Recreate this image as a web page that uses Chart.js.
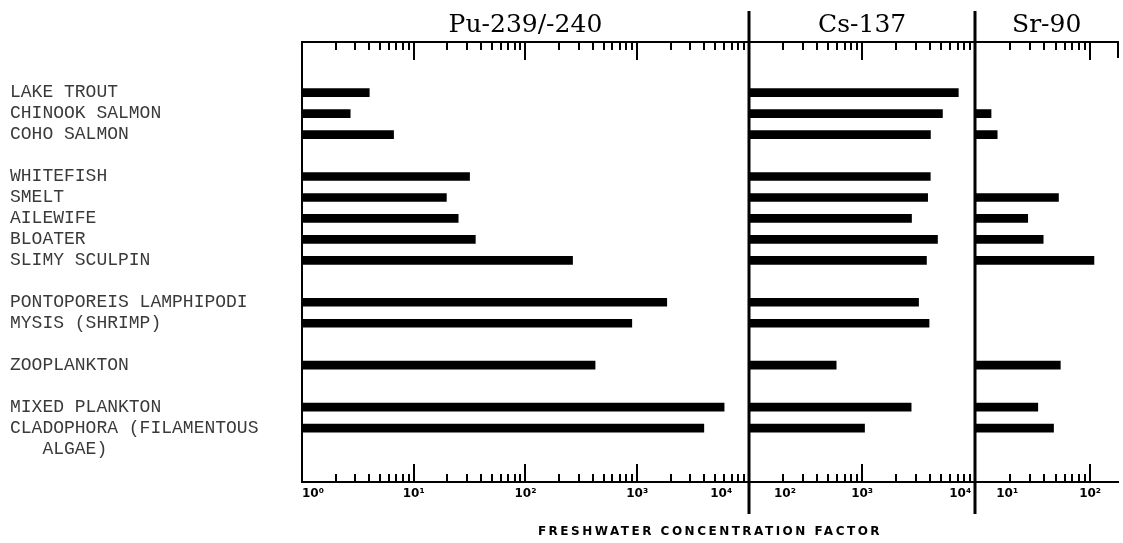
<!DOCTYPE html>
<html><head><meta charset="utf-8">
<script src="https://cdn.jsdelivr.net/npm/chart.js@4.4.1/dist/chart.umd.min.js"></script>
<style>html,body{margin:0;padding:0;background:#fff;}#wrap{position:relative;width:1123px;height:543px;}</style>
</head><body><div id="wrap"><canvas id="c" width="1123" height="543"></canvas></div>
<script>
// ---- data ----
const rowLabels = ['LAKE TROUT','CHINOOK SALMON','COHO SALMON','','WHITEFISH','SMELT','AILEWIFE','BLOATER','SLIMY SCULPIN','','PONTOPOREIS LAMPHIPODI','MYSIS (SHRIMP)','','ZOOPLANKTON','','MIXED PLANKTON','CLADOPHORA (FILAMENTOUS','   ALGAE)'];
const puValues = [4.0, 2.7, 6.6, null, 31.6, 19.6, 25, 35.6, 264, null, 1840, 895, null, 420, null, 6000, 3950, null];
const csValues = [7070, 5120, 4010, null, 4000, 3790, 2730, 4630, 3700, null, 3150, 3900, null, 590, null, 2710, 1050, null];
const srValues = [null, 13.7, 15.5, null, null, 53, 28.6, 39, 108, null, null, null, null, 55, null, 35, 48, null];
const panelTitles = ['Pu-239/-240', 'Cs-137', 'Sr-90'];
const puTickLabels = ['10⁰', '10¹', '10²', '10³', '10⁴'];
const csTickLabels = ['10²', '10³', '10⁴'];
const srTickLabels = ['10¹', '10²'];
const puRange = [1, 10000];
const csRange = [100, 10000];
const srRange = [10, 175];
const axisTitle = 'FRESHWATER CONCENTRATION FACTOR';

// ---- helpers ----
function logTicks(scale) {
  const lo = scale.min, hi = scale.max;
  const out = [{value: lo}];
  for (let e = Math.floor(Math.log10(lo) + 1e-9); Math.pow(10, e) <= hi; e++) {
    for (let m = 1; m <= 9; m++) {
      const v = m * Math.pow(10, e);
      if (v > lo && v < hi) out.push({value: v});
    }
  }
  out.push({value: hi});
  scale.ticks = out;
}
// lead/trail: spaces that keep edge labels clear of the panel dividers
function labelFrom(labels, lead, trail) {
  return function (value, index, ticks) {
    const e = Math.log10(value) - Math.log10(this.min);
    const r = Math.round(e);
    if (Math.abs(e - r) > 1e-9 || labels[r] === undefined) return '';
    let txt = labels[r];
    if (index === 0) txt = ' '.repeat(lead) + txt;
    if (index === ticks.length - 1) txt = txt + ' '.repeat(trail);
    return txt;
  };
}
function series(values, axis) {
  return {
    data: rowLabels.map((_, i) => ({x: values[i], y: i})).filter(p => p.x != null),
    xAxisID: axis, yAxisID: 'y', backgroundColor: '#000', borderWidth: 0,
    barThickness: 8, grouped: false
  };
}
function bottomAxis(range, weight, labels, lead, trail) {
  return {
    type: 'logarithmic', axis: 'x', position: 'bottom', stack: 'b', stackWeight: weight,
    min: range[0], max: range[1],
    afterBuildTicks: logTicks,
    afterFit: s => { s.height = 40; },
    grid: {display: false, drawTicks: false},
    border: {display: true, color: '#000', width: 2},
    ticks: {autoSkip: false, maxRotation: 0, minRotation: 0, align: 'inner', padding: 5,
      color: '#000', font: {family: "'DejaVu Sans', sans-serif", size: 12, weight: 'bold'},
      callback: labelFrom(labels, lead, trail)}
  };
}
function topAxis(range, weight, title) {
  return {
    type: 'logarithmic', axis: 'x', position: 'top', stack: 't', stackWeight: weight,
    min: range[0], max: range[1],
    afterFit: s => { s.height = 42; },
    grid: {display: false, drawTicks: false},
    border: {display: true, color: '#000', width: 2},
    ticks: {display: false},
    title: {display: true, text: title, color: '#000', padding: {top: 10, bottom: 0},
      font: {family: "'DejaVu Serif', serif", size: 25}}
  };
}

const decor = {
  id: 'decor',
  afterDraw(chart) {
    const ctx = chart.ctx, ca = chart.chartArea, s = chart.scales;
    ctx.save();
    ctx.strokeStyle = '#000';
    ctx.lineWidth = 2;
    for (const id of ['xPu', 'xCs', 'xSr']) {
      const sc = s[id];
      for (const t of sc.ticks) {
        const v = t.value;
        if (v <= sc.min || v >= sc.max) continue;
        const e = Math.floor(Math.log10(v) + 1e-9);
        const m = v / Math.pow(10, e);
        if (Math.abs(m - Math.round(m)) > 1e-6) continue;
        const x = Math.round(sc.getPixelForValue(v));
        const len = Math.round(m) === 1 ? 18 : 8;
        ctx.beginPath();
        ctx.moveTo(x, ca.top); ctx.lineTo(x, ca.top + len);
        ctx.moveTo(x, ca.bottom); ctx.lineTo(x, ca.bottom - len);
        ctx.stroke();
      }
    }
    ctx.lineWidth = 3;
    for (const id of ['xCs', 'xSr']) {
      const x = Math.round(s[id].left);
      ctx.beginPath(); ctx.moveTo(x, ca.top - 31); ctx.lineTo(x, ca.bottom + 32); ctx.stroke();
    }
    ctx.lineWidth = 2;
    ctx.beginPath(); ctx.moveTo(ca.right, ca.top); ctx.lineTo(ca.right, ca.top + 16); ctx.stroke();
    ctx.fillStyle = '#000';
    ctx.font = "bold 12px 'DejaVu Sans', sans-serif";
    if ('letterSpacing' in ctx) ctx.letterSpacing = '2.5px';
    ctx.textAlign = 'center';
    ctx.textBaseline = 'middle';
    ctx.fillText(axisTitle, (ca.left + ca.right) / 2, ca.bottom + 50);
    ctx.restore();
  }
};

new Chart(document.getElementById('c'), {
  type: 'bar',
  data: {
    datasets: [series(puValues, 'xPu'), series(csValues, 'xCs'), series(srValues, 'xSr')]
  },
  options: {
    indexAxis: 'y',
    responsive: false,
    animation: false,
    layout: {padding: {left: 10, right: 3, top: 0, bottom: 21}},
    plugins: {legend: {display: false}, tooltip: {enabled: false}},
    scales: {
      y: {
        type: 'linear', position: 'left', reverse: true, min: -1.834, max: 17.99,
        afterBuildTicks: s => { s.ticks = rowLabels.map((_, i) => ({value: i})); },
        afterFit: s => { s.width = 292; },
        grid: {display: false, drawTicks: false},
        border: {display: true, color: '#000', width: 2},
        ticks: {autoSkip: false, crossAlign: 'far', color: '#3a3a3a',
          font: {family: "'Liberation Mono', monospace", size: 18},
          callback: v => rowLabels[v] ?? ''}
      },
      xPu: bottomAxis(puRange, 448, puTickLabels, 0, 4),
      xCs: bottomAxis(csRange, 227, csTickLabels, 6, 1),
      xSr: bottomAxis(srRange, 143, srTickLabels, 5, 0),
      // top stack is laid out in reverse order of definition
      tSr: topAxis(srRange, 143, panelTitles[2]),
      tCs: topAxis(csRange, 227, panelTitles[1]),
      tPu: topAxis(puRange, 448, panelTitles[0])
    }
  },
  plugins: [decor]
});
</script></body></html>
